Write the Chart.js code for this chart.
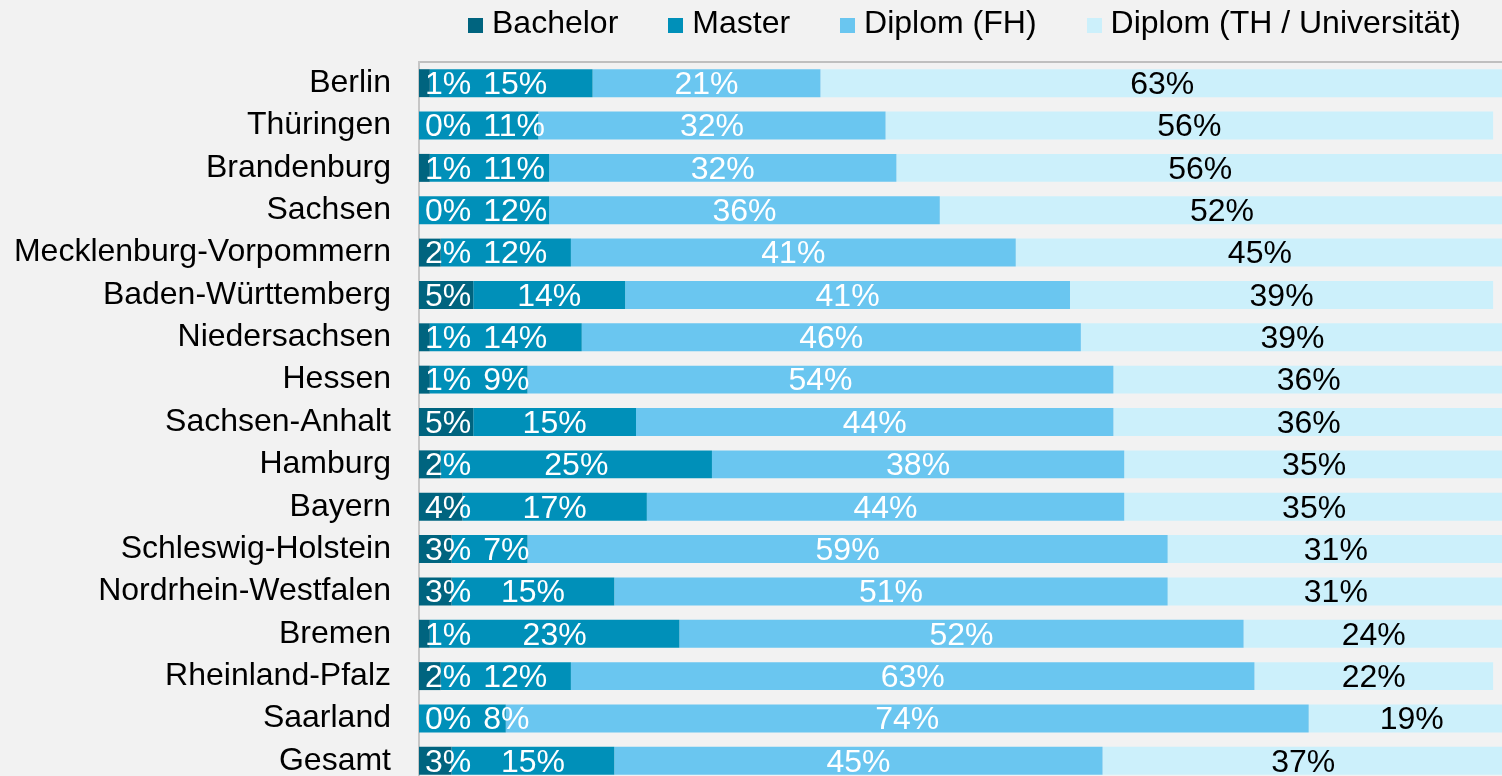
<!DOCTYPE html>
<html lang="de">
<head>
<meta charset="utf-8">
<title>Abschlussarten nach Bundesland</title>
<script src="https://cdn.jsdelivr.net/npm/chart.js@4.4.1/dist/chart.umd.min.js"></script>
<style>
  html, body {
    margin: 0;
    padding: 0;
    background: #f2f2f2;
    overflow: hidden;
    font-family: "Liberation Sans", Arial, sans-serif;
  }
  #wrap {
    position: relative;
    width: 1502px;
    height: 776px;
    overflow: hidden;
  }
  #chart {
    position: absolute;
    left: 0;
    top: 0;
  }
  #legend {
    position: absolute;
    top: 4px;
    left: 468px;
    white-space: nowrap;
    font-size: 32px;
    line-height: 36px;
    color: #000;
  }
  #legend .item {
    display: inline-block;
    margin-right: 50px;
  }
  #legend .box {
    display: inline-block;
    width: 15px;
    height: 15px;
    margin-right: 9px;
    vertical-align: baseline;
  }
</style>
</head>
<body>
<div id="wrap">
  <canvas id="chart" width="1504" height="782"></canvas>
  <div id="legend"></div>
</div>
<script>
// Rows, top to bottom
const REGIONS = [
  'Berlin', 'Thüringen', 'Brandenburg', 'Sachsen', 'Mecklenburg-Vorpommern',
  'Baden-Württemberg', 'Niedersachsen', 'Hessen', 'Sachsen-Anhalt', 'Hamburg',
  'Bayern', 'Schleswig-Holstein', 'Nordrhein-Westfalen', 'Bremen',
  'Rheinland-Pfalz', 'Saarland', 'Gesamt',
];

// Share per degree type, in percent
const BACHELOR = [1, 0, 1, 0, 2, 5, 1, 1, 5, 2, 4, 3, 3, 1, 2, 0, 3];
const MASTER   = [15, 11, 11, 12, 12, 14, 14, 9, 15, 25, 17, 7, 15, 23, 12, 8, 15];
const DIPLOM_FH = [21, 32, 32, 36, 41, 41, 46, 54, 44, 38, 44, 59, 51, 52, 63, 74, 45];
const DIPLOM_TH = [63, 56, 56, 52, 45, 39, 39, 36, 36, 35, 35, 31, 31, 24, 22, 19, 37];

const SERIES_NAMES = ['Bachelor', 'Master', 'Diplom (FH)', 'Diplom (TH / Universität)'];
const SERIES_VALUES = [BACHELOR, MASTER, DIPLOM_FH, DIPLOM_TH];
const SERIES_COLORS = ['#00647f', '#0090b9', '#6ac6f0', '#ccf0fb'];
const LABEL_COLORS = ['#ffffff', '#ffffff', '#ffffff', '#000000'];

const FONT_FAMILY = '"Liberation Sans", Arial, sans-serif';

// Percentage labels, centred in each segment; narrow segments push their
// label right so neighbouring labels don't run into each other.
const valueLabels = {
  id: 'valueLabels',
  afterDatasetsDraw(chart) {
    const { ctx, chartArea } = chart;
    ctx.save();
    ctx.font = `32px ${FONT_FAMILY}`;
    ctx.textBaseline = 'middle';
    ctx.textAlign = 'left';

    chart.data.labels.forEach((_, i) => {
      let prevRight = -Infinity;
      chart.data.datasets.forEach((ds, d) => {
        const bar = chart.getDatasetMeta(d).data[i];
        const { x, base, y } = bar.getProps(['x', 'base', 'y'], true);
        const text = `${ds.data[i]}%`;
        const w = ctx.measureText(text).width;
        let left = (x + base) / 2 - w / 2;
        if (d === 0) left = Math.max(left, chartArea.left + 6);
        left = Math.max(left, prevRight + 12);
        ctx.fillStyle = LABEL_COLORS[d];
        ctx.fillText(text, left, y + 2);
        prevRight = left + w;
      });
    });
    ctx.restore();
  },
};

// Legend row above the plot
const legendEl = document.getElementById('legend');
SERIES_NAMES.forEach((name, i) => {
  const item = document.createElement('span');
  item.className = 'item';
  const box = document.createElement('span');
  box.className = 'box';
  box.style.background = SERIES_COLORS[i];
  item.appendChild(box);
  item.appendChild(document.createTextNode(name));
  legendEl.appendChild(item);
});

new Chart(document.getElementById('chart'), {
  type: 'bar',
  data: {
    labels: REGIONS,
    datasets: SERIES_NAMES.map((name, i) => ({
      label: name,
      data: SERIES_VALUES[i],
      backgroundColor: SERIES_COLORS[i],
      borderWidth: 0,
      categoryPercentage: 0.66,
      barPercentage: 1,
    })),
  },
  options: {
    indexAxis: 'y',
    responsive: false,
    animation: false,
    devicePixelRatio: 1,
    layout: { padding: { top: 62, right: 0, bottom: 0, left: 0 } },
    plugins: {
      legend: { display: false },
      tooltip: { enabled: false },
    },
    scales: {
      x: {
        stacked: true,
        position: 'top',
        min: 0,
        max: 100,
        grid: { display: false, drawTicks: false },
        ticks: { display: false },
        border: { color: '#bfbfbf', width: 2 },
      },
      y: {
        stacked: true,
        grid: { display: false, drawTicks: false },
        ticks: {
          color: '#000',
          font: { family: FONT_FAMILY, size: 32 },
          padding: 28,
          autoSkip: false,
        },
        border: { color: '#c6c6c6', width: 2 },
        afterFit(scale) {
          // fixed gutter for the names; no extra space above/below the rows
          scale.width = 419;
          scale.paddingTop = 0;
          scale.paddingBottom = 0;
        },
      },
    },
  },
  plugins: [valueLabels],
});
</script>
</body>
</html>
